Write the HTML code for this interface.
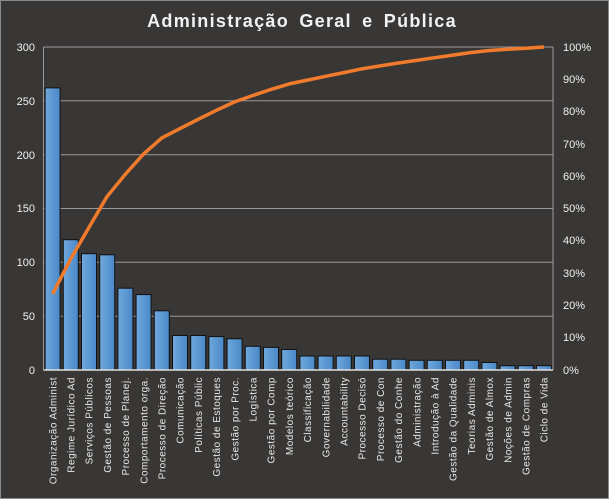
<!DOCTYPE html>
<html><head><meta charset="utf-8"><style>
html,body{margin:0;padding:0;background:#393735;}
svg{display:block;font-family:"Liberation Sans",sans-serif;}
</style></head><body>
<svg width="609" height="499" viewBox="0 0 609 499" xmlns="http://www.w3.org/2000/svg">
<defs><linearGradient id="bg" x1="0" x2="1"><stop offset="0" stop-color="#6fa8dc"/><stop offset="1" stop-color="#4a88c8"/></linearGradient></defs>
<rect x="0.5" y="0.5" width="608" height="498" fill="#393735" stroke="#8a8a8a"/>
<text x="302" y="27" fill="#f2f2f2" font-size="18" font-weight="bold" text-anchor="middle" letter-spacing="1.3" word-spacing="4">Administração Geral e Pública</text>
<g stroke="#9a9a9a" stroke-width="1">
<line x1="43.5" x2="553" y1="47" y2="47"/><line x1="43.5" x2="553" y1="100.8" y2="100.8"/><line x1="43.5" x2="553" y1="154.7" y2="154.7"/><line x1="43.5" x2="553" y1="208.5" y2="208.5"/><line x1="43.5" x2="553" y1="262.3" y2="262.3"/><line x1="43.5" x2="553" y1="316.2" y2="316.2"/>
<line x1="43.5" x2="43.5" y1="47" y2="370"/><line x1="553" x2="553" y1="47" y2="370"/>
</g>
<g fill="#f0f0f0" font-size="11" text-anchor="end">
<text x="35" y="51">300</text><text x="35" y="105">250</text><text x="35" y="159">200</text><text x="35" y="212">150</text><text x="35" y="266">100</text><text x="35" y="320">50</text><text x="35" y="374">0</text>
</g>
<g fill="#f0f0f0" font-size="11">
<text x="563" y="51">100%</text><text x="563" y="83">90%</text><text x="563" y="115">80%</text><text x="563" y="148">70%</text><text x="563" y="180">60%</text><text x="563" y="212">50%</text><text x="563" y="244">40%</text><text x="563" y="277">30%</text><text x="563" y="309">20%</text><text x="563" y="341">10%</text><text x="563" y="374">0%</text>
</g>
<g fill="url(#bg)" stroke="#111" stroke-width="1">
<rect x="45.1" y="87.9" width="15" height="282.1"/>
<rect x="63.3" y="239.7" width="15" height="130.3"/>
<rect x="81.5" y="253.7" width="15" height="116.3"/>
<rect x="99.7" y="254.8" width="15" height="115.2"/>
<rect x="117.9" y="288.2" width="15" height="81.8"/>
<rect x="136.1" y="294.6" width="15" height="75.4"/>
<rect x="154.3" y="310.8" width="15" height="59.2"/>
<rect x="172.5" y="335.5" width="15" height="34.5"/>
<rect x="190.7" y="335.5" width="15" height="34.5"/>
<rect x="208.9" y="336.6" width="15" height="33.4"/>
<rect x="227.1" y="338.8" width="15" height="31.2"/>
<rect x="245.3" y="346.3" width="15" height="23.7"/>
<rect x="263.5" y="347.4" width="15" height="22.6"/>
<rect x="281.7" y="349.5" width="15" height="20.5"/>
<rect x="299.9" y="356" width="15" height="14"/>
<rect x="318.1" y="356" width="15" height="14"/>
<rect x="336.3" y="356" width="15" height="14"/>
<rect x="354.5" y="356" width="15" height="14"/>
<rect x="372.7" y="359.2" width="15" height="10.8"/>
<rect x="390.9" y="359.2" width="15" height="10.8"/>
<rect x="409.1" y="360.3" width="15" height="9.7"/>
<rect x="427.3" y="360.3" width="15" height="9.7"/>
<rect x="445.5" y="360.3" width="15" height="9.7"/>
<rect x="463.7" y="360.3" width="15" height="9.7"/>
<rect x="481.9" y="362.5" width="15" height="7.5"/>
<rect x="500.1" y="365.7" width="15" height="4.3"/>
<rect x="518.3" y="365.7" width="15" height="4.3"/>
<rect x="536.5" y="365.7" width="15" height="4.3"/>
</g>
<line x1="43.5" x2="553" y1="370" y2="370" stroke="#e0e0e0" stroke-width="1.5"/>
<polyline fill="none" stroke="#f07b2c" stroke-width="3.5" stroke-linejoin="round" points="52.6,293.9 70.8,258.7 89,227.4 107.2,196.3 125.4,174.2 143.6,153.9 161.8,137.9 180,128.6 198.2,119.3 216.4,110.3 234.6,101.9 252.8,95.5 271,89.4 289.2,83.9 307.4,80.1 325.6,76.3 343.8,72.6 362,68.8 380.2,65.9 398.4,63 416.6,60.4 434.8,57.7 453,55.1 471.2,52.5 489.4,50.5 507.6,49.3 525.8,48.2 544,47"/>
<g fill="#e8e8e8" font-size="10" text-anchor="end" letter-spacing="0.5">
<text transform="translate(56.3,377) rotate(-90)">Organização Administ</text>
<text transform="translate(74.5,377) rotate(-90)">Regime Jurídico Ad</text>
<text transform="translate(92.7,377) rotate(-90)">Serviços Públicos</text>
<text transform="translate(110.9,377) rotate(-90)">Gestão de Pessoas</text>
<text transform="translate(129.1,377) rotate(-90)">Processo de Planej.</text>
<text transform="translate(147.3,377) rotate(-90)">Comportamento orga.</text>
<text transform="translate(165.5,377) rotate(-90)">Processo de Direção</text>
<text transform="translate(183.7,377) rotate(-90)">Comunicação</text>
<text transform="translate(201.9,377) rotate(-90)">Políticas Públic</text>
<text transform="translate(220.1,377) rotate(-90)">Gestão de Estoques</text>
<text transform="translate(238.3,377) rotate(-90)">Gestão por Proc.</text>
<text transform="translate(256.5,377) rotate(-90)">Logística</text>
<text transform="translate(274.7,377) rotate(-90)">Gestão por Comp</text>
<text transform="translate(292.9,377) rotate(-90)">Modelos teórico</text>
<text transform="translate(311.1,377) rotate(-90)">Classificação</text>
<text transform="translate(329.3,377) rotate(-90)">Governabilidade</text>
<text transform="translate(347.5,377) rotate(-90)">Accountability</text>
<text transform="translate(365.7,377) rotate(-90)">Processo Decisó</text>
<text transform="translate(383.9,377) rotate(-90)">Processo de Con</text>
<text transform="translate(402.1,377) rotate(-90)">Gestão do Conhe</text>
<text transform="translate(420.3,377) rotate(-90)">Administração</text>
<text transform="translate(438.5,377) rotate(-90)">Introdução à Ad</text>
<text transform="translate(456.7,377) rotate(-90)">Gestão da Qualidade</text>
<text transform="translate(474.9,377) rotate(-90)">Teorias Adminis</text>
<text transform="translate(493.1,377) rotate(-90)">Gestão de Almox</text>
<text transform="translate(511.3,377) rotate(-90)">Noções de Admin</text>
<text transform="translate(529.5,377) rotate(-90)">Gestão de Compras</text>
<text transform="translate(547.7,377) rotate(-90)">Ciclo de Vida</text>
</g>
</svg>
</body></html>
